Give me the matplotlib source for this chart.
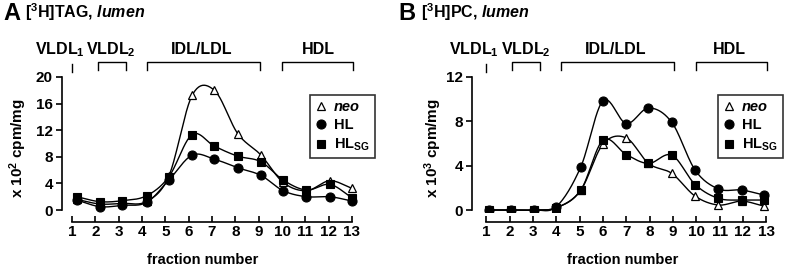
import numpy as np
import matplotlib
matplotlib.use("Agg")
import matplotlib.pyplot as plt
from matplotlib.lines import Line2D
import matplotlib.transforms as mtrans

plt.rcParams['font.family'] = ['Liberation Sans', 'DejaVu Sans']
plt.rcParams['font.weight'] = 'bold'
plt.rcParams['mathtext.fontset'] = 'custom'
plt.rcParams['mathtext.rm'] = 'Liberation Sans:bold'
plt.rcParams['mathtext.bf'] = 'Liberation Sans:bold'
plt.rcParams['mathtext.it'] = 'Liberation Sans:bold:italic'
plt.rcParams['mathtext.default'] = 'rm'

# ---------------- data ----------------
fraction_ticks = list(range(1, 14))

# Panel A: [3H]TAG, lumen (x 10^2 cpm/mg)
xA = [1.2, 2.2, 3.15, 4.2, 5.15, 6.15, 7.1, 8.1, 9.1, 10.05, 11.05, 12.05, 13.0]
tag_neo = [1.6, 0.9, 1.0, 1.3, 5.1, 17.25, 18.0, 11.5, 8.25, 4.15, 2.9, 4.4, 3.25]
tag_HL = [1.5, 0.5, 0.7, 1.15, 4.5, 8.25, 7.65, 6.35, 5.2, 2.9, 2.0, 2.0, 1.35]
tag_HLSG = [2.0, 1.25, 1.4, 2.15, 5.0, 11.35, 9.6, 8.1, 7.25, 4.5, 3.0, 3.85, 1.85]

# Panel B: [3H]PC, lumen (x 10^3 cpm/mg)
xB = [1.1, 2.05, 3.05, 4.0, 5.05, 6.0, 7.0, 7.95, 8.95, 9.95, 10.95, 11.95, 12.9]
pc_neo = [0.0, 0.0, 0.0, 0.2, 1.8, 5.95, 6.5, 4.2, 3.3, 1.25, 0.45, 0.8, 0.35]
pc_HL = [0.0, 0.0, 0.0, 0.3, 3.9, 9.85, 7.8, 9.2, 7.9, 3.6, 1.9, 1.8, 1.35]
pc_HLSG = [0.0, 0.0, 0.0, 0.2, 1.8, 6.3, 5.0, 4.2, 4.95, 2.3, 1.05, 0.9, 0.9]

yticksA = [0, 4, 8, 12, 16, 20]
yticksB = [0, 4, 8, 12]

region_labels = [r"VLDL$_{1}$", r"VLDL$_{2}$", "IDL/LDL", "HDL"]
series_labels = ["neo", "HL", r"HL$_{\mathregular{SG}}$"]


def smooth(x, y, n=24):
    """Catmull-Rom style smooth curve through the points (for drawing the line)."""
    x = np.asarray(x, float)
    y = np.asarray(y, float)
    m = np.zeros_like(y)
    m[1:-1] = (y[2:] - y[:-2]) / (x[2:] - x[:-2])
    m[0] = (y[1] - y[0]) / (x[1] - x[0])
    m[-1] = (y[-1] - y[-2]) / (x[-1] - x[-2])
    xs, ys = [], []
    for i in range(len(x) - 1):
        h = x[i + 1] - x[i]
        t = np.linspace(0, 1, n, endpoint=False)
        h00 = 2 * t**3 - 3 * t**2 + 1
        h10 = t**3 - 2 * t**2 + t
        h01 = -2 * t**3 + 3 * t**2
        h11 = t**3 - t**2
        xs.append(x[i] + t * h)
        ys.append(h00 * y[i] + h10 * h * m[i] + h01 * y[i + 1] + h11 * h * m[i + 1])
    xs.append([x[-1]])
    ys.append([y[-1]])
    return np.concatenate(xs), np.concatenate(ys)


W, H = 785, 266
fig = plt.figure(figsize=(W / 100, H / 100), dpi=100)

unit = 23.33  # px per fraction
axA = fig.add_axes([62 / W, (H - 212) / H, 297 / W, 135 / H])
axB = fig.add_axes([472 / W, (H - 212) / H, 302 / W, 135 / H])

panels = [
    (axA, xA, [tag_neo, tag_HL, tag_HLSG], yticksA, (0.57, 0.57 + 297 / unit),
     (-0.3, 20.0), r"x 10$^{2}$ cpm/mg", -0.112),
    (axB, xB, [pc_neo, pc_HL, pc_HLSG], yticksB, (0.385, 0.385 + 302 / unit),
     (-0.18, 12.0), r"x 10$^{3}$ cpm/mg", -0.092),
]

styles = [
    dict(marker='^', mfc='white', mec='black', ms=6.0, mew=0.9),
    dict(marker='o', mfc='black', mec='black', ms=6.5, mew=0.8),
    dict(marker='s', mfc='black', mec='black', ms=6.0, mew=0.8),
]

brackets = [(1.0, 1.0), (2.1, 3.3), (4.2, 9.05), (10.0, 13.05)]

for ax, xs, series, yt, xl, yl, ylab, ylx in panels:
    for ys, st in zip(series, styles):
        sx, sy = smooth(xs, ys)
        ax.plot(sx, sy, color='black', lw=1.0, zorder=2)
        ax.plot(xs, ys, ls='none', zorder=3, **st)
    ax.set_xlim(*xl)
    ax.set_ylim(*yl)
    ax.set_xticks(fraction_ticks)
    ax.set_yticks(yt)
    for s in ['top', 'right']:
        ax.spines[s].set_visible(False)
    ax.spines['bottom'].set_position(('outward', 7))
    ax.spines['bottom'].set_bounds(1, 13)
    ax.spines['left'].set_bounds(0, yt[-1])
    for s in ['bottom', 'left']:
        ax.spines[s].set_linewidth(1.2)
    ax.tick_params(axis='x', direction='in', length=4.5, width=1.2, pad=2.5,
                   labelsize=11)
    ax.tick_params(axis='y', direction='out', length=4.5, width=1.2, pad=2,
                   labelsize=11)
    for lab in ax.get_xticklabels() + ax.get_yticklabels():
        lab.set_fontweight('bold')
    ax.set_ylabel(ylab, fontsize=11, fontweight='bold')
    ax.yaxis.set_label_coords(ylx, 0.47)
    ax.set_xlabel("fraction number", fontsize=10.5, fontweight='bold', labelpad=3)

    # region brackets
    tr = mtrans.blended_transform_factory(ax.transData, ax.transAxes)
    y_top, y_leg = 1.111, 1.055
    for (a, b) in brackets:
        if a == b:
            ax.plot([a, a], [y_top - 0.015, y_leg - 0.015], color='black', lw=1.0,
                    transform=tr, clip_on=False)
        else:
            ax.plot([a, a, b, b], [y_leg, y_top, y_top, y_leg], color='black',
                    lw=1.0, transform=tr, clip_on=False)

axA.xaxis.set_label_coords(0.475, -0.30)
axB.xaxis.set_label_coords(0.50, -0.30)

# region labels
label_xA = [0.5, 2.67, 6.57, 11.54]
label_xB = [0.45, 2.69, 6.54, 11.4]
for ax, lx in [(axA, label_xA), (axB, label_xB)]:
    tr = mtrans.blended_transform_factory(ax.transData, ax.transAxes)
    for x, lab in zip(lx, region_labels):
        ax.text(x, 1.20, lab, transform=tr, ha='center', va='center',
                fontsize=11.5, fontweight='bold')

# legends
handles = [Line2D([], [], ls='none', **st) for st in styles]
for ax, right_px in [(axA, 375), (axB, 783)]:
    leg = ax.legend(handles, series_labels, loc='upper right',
                    bbox_to_anchor=(right_px / W, 1 - 95 / H),
                    bbox_transform=fig.transFigure, frameon=True, fancybox=False,
                    edgecolor='black', handlelength=0.8,
                    handletextpad=0.5, labelspacing=0.3, borderpad=0.35,
                    borderaxespad=0, prop={'weight': 'bold', 'size': 10.5})
    leg.get_frame().set_linewidth(1.2)
    leg.get_texts()[0].set_fontstyle('italic')

# panel titles
fig.text(3 / W, 1 - 13 / H, "A", fontsize=17, fontweight='bold', va='center', ha='left')
fig.text(25 / W, 1 - 12 / H, r"[$^{3}$H]TAG, $\mathit{lumen}$", fontsize=11.5,
         fontweight='bold', va='center', ha='left')
fig.text(398 / W, 1 - 13 / H, "B", fontsize=17, fontweight='bold', va='center', ha='left')
fig.text(421 / W, 1 - 12 / H, r"[$^{3}$H]PC, $\mathit{lumen}$", fontsize=11.5,
         fontweight='bold', va='center', ha='left')

fig.savefig("out.png", dpi=100)
